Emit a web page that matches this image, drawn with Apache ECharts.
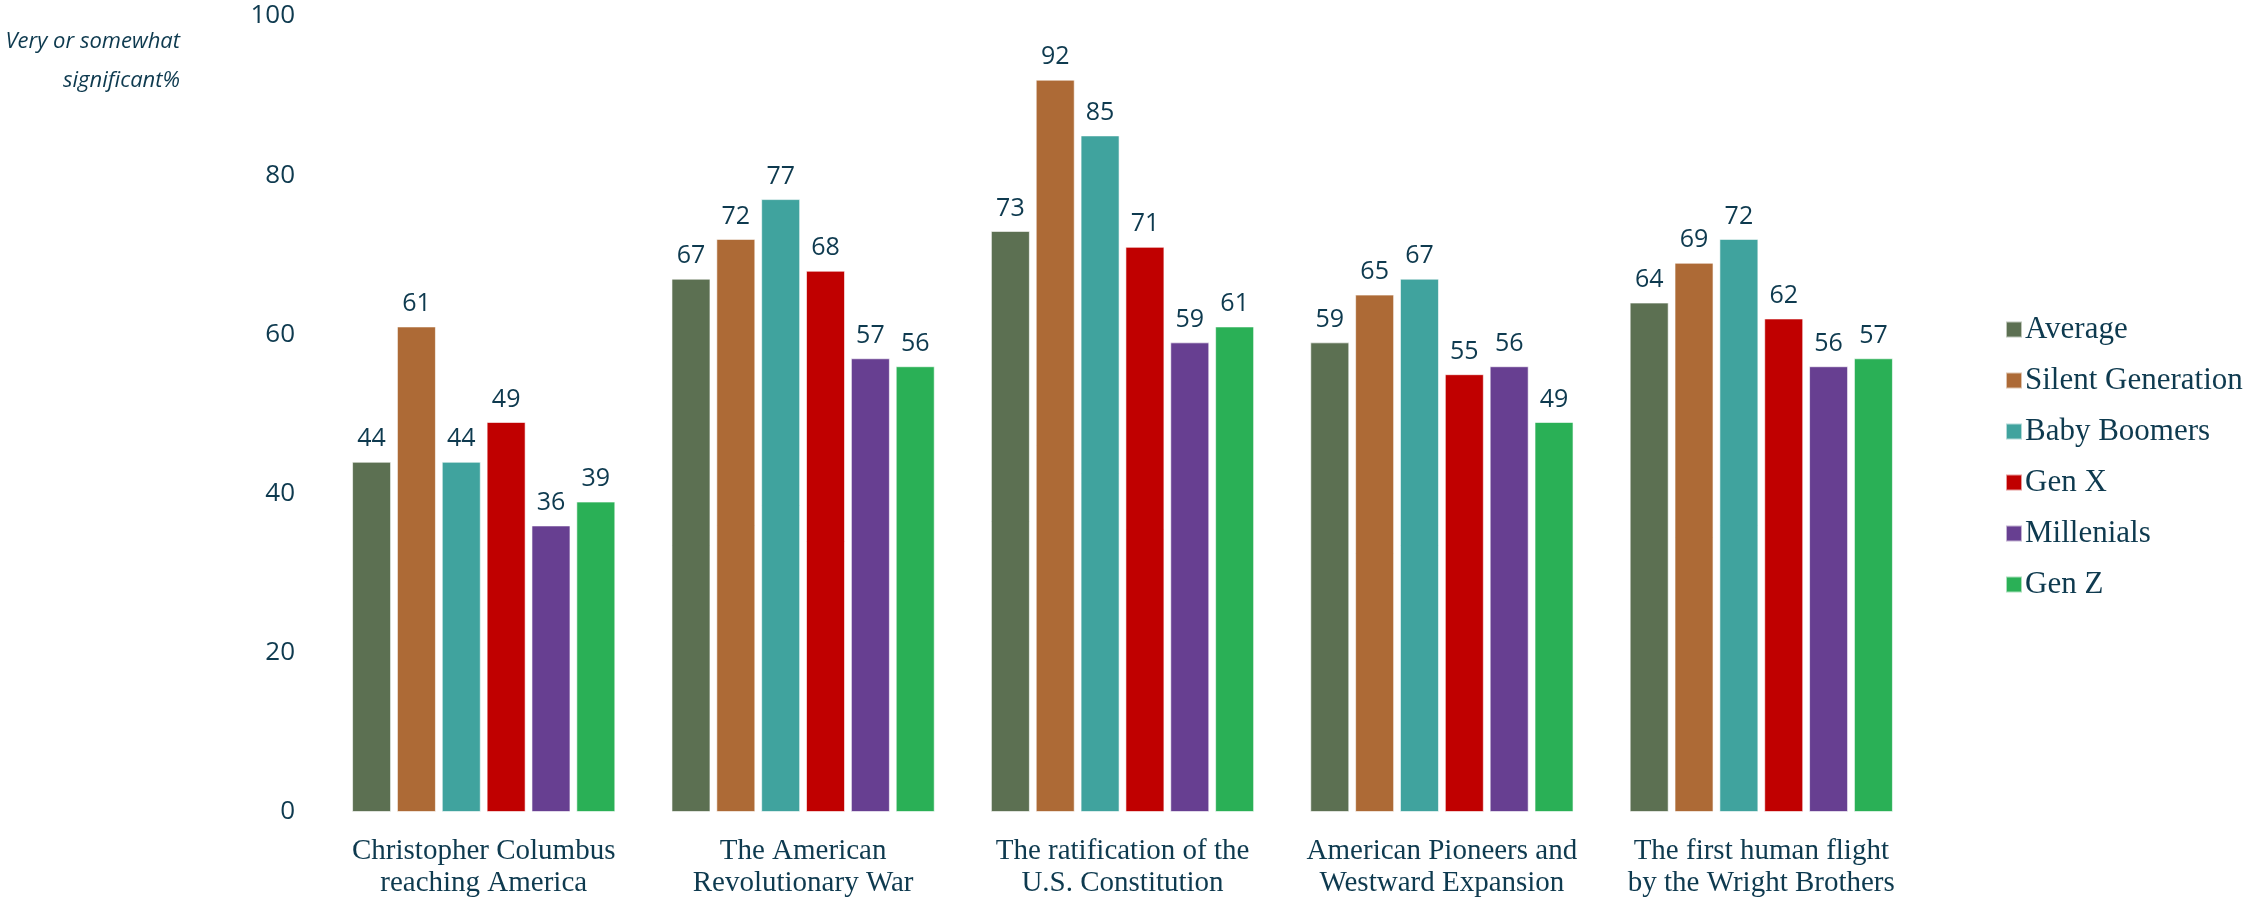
<!DOCTYPE html>
<html>
<head>
<meta charset="utf-8">
<script src="https://cdn.jsdelivr.net/npm/echarts@6/dist/echarts.min.js"></script>
<style>html,body{margin:0;padding:0;background:#fff}#c{width:2266px;height:899px}</style>
</head>
<body>
<div id="c"></div>
<script>
const categories = ['Christopher Columbus\nreaching America', 'The American\nRevolutionary War', 'The ratification of the\nU.S. Constitution', 'American Pioneers and\nWestward Expansion', 'The first human flight\nby the Wright Brothers'];
const seriesNames = ['Average', 'Silent Generation', 'Baby Boomers', 'Gen X', 'Millenials', 'Gen Z'];
const average = [44, 67, 73, 59, 64];
const silentGeneration = [61, 72, 92, 65, 69];
const babyBoomers = [44, 77, 85, 67, 72];
const genX = [49, 68, 71, 55, 62];
const millenials = [36, 57, 59, 56, 56];
const genZ = [39, 56, 61, 49, 57];
const seriesValues = [average, silentGeneration, babyBoomers, genX, millenials, genZ];
const colors = ['#5c7052', '#ad6a36', '#40a39e', '#c00000', '#673f91', '#2ab056'];
const textColor = '#0e3a4f';

const chart = echarts.init(document.getElementById('c'));
chart.setOption({
  animation: false,
  color: colors,
  grid: { left: 324, right: 345, top: 16, bottom: 86 },
  graphic: [{
    type: 'text', x: 180, y: 22,
    style: {
      text: 'Very or somewhat\nsignificant%', align: 'right',
      fill: textColor, font: 'italic 22px "Open Sans"', lineHeight: 39
    }
  }],
  legend: {
    orient: 'vertical', left: 2000, top: 309,
    itemWidth: 16, itemHeight: 16, itemGap: 20, icon: 'rect',
    textStyle: { color: textColor, fontSize: 31, fontFamily: 'Liberation Serif', padding: [0, 0, 0, -2] },
    data: seriesNames
  },
  xAxis: {
    type: 'category', data: categories,
    axisLine: { show: false }, axisTick: { show: false },
    axisLabel: { color: textColor, fontSize: 29, fontFamily: 'Liberation Serif', margin: 23, lineHeight: 32, interval: 0 }
  },
  yAxis: {
    type: 'value', min: 0, max: 100, interval: 20,
    axisLine: { show: false }, axisTick: { show: false }, splitLine: { show: false },
    axisLabel: { color: textColor, fontSize: 26, fontFamily: 'Open Sans', margin: 29 }
  },
  series: seriesNames.map((n, i) => ({
    name: n, type: 'bar', data: seriesValues[i],
    barWidth: 39, barGap: '15%',
    itemStyle: { color: colors[i], borderColor: 'rgba(255,255,255,0.6)', borderWidth: 1 },
    label: { show: true, position: 'top', distance: 10, color: textColor, fontSize: 25, fontFamily: 'Open Sans' }
  }))
});
</script>
</body>
</html>
